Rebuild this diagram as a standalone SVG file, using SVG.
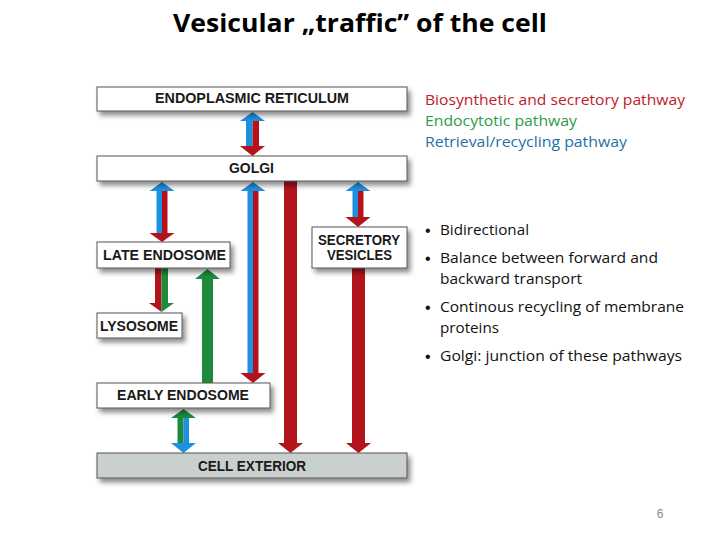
<svg xmlns="http://www.w3.org/2000/svg" width="720" height="540" viewBox="0 0 720 540">
<defs>
<filter id="sh" x="-10%" y="-30%" width="125%" height="190%">
<feDropShadow dx="3" dy="4" stdDeviation="2.5" flood-color="#000" flood-opacity="0.45"/>
</filter>
<style>
.box{fill:#fff;stroke:#555;stroke-width:1;filter:url(#sh)}
.ext{fill:#c9d0cd}
.lbl{font-family:"Liberation Sans",Arial,sans-serif;font-weight:bold;font-size:14.5px;fill:#1a1a1a;text-anchor:middle}
.r{fill:#b3141c}.b{fill:#1e90e0}.g{fill:#1f8a3c}
.leg{font-family:"Open Sans","Liberation Sans",sans-serif;font-size:14px}
.bt{font-family:"Open Sans","Liberation Sans",sans-serif;font-size:14px;fill:#111}
.bu{font-family:"Liberation Sans",sans-serif;font-size:16px;fill:#111}
</style>
</defs>
<rect width="720" height="540" fill="#fff"/>
<text x="360" y="32" font-family="'Open Sans','Liberation Sans',sans-serif" font-weight="bold" font-size="25" text-anchor="middle" textLength="374" lengthAdjust="spacingAndGlyphs" fill="#000">Vesicular „traffic” of the cell</text>

<g id="connectors">
<path class="b" d="M246,146 V121 H240 L252.5,112 L265,121 H252.5 V146 Z"/>
<path class="r" d="M252.5,121 H259 V146 H265 L252.5,156 L240,146 H252.5 Z"/>
<path class="b" d="M156.5,233 V191 H149.5 L162,182 L174.5,191 H162 V233 Z"/>
<path class="r" d="M162,191 H167.5 V233 H174.5 L162,242 L149.5,233 H162 Z"/>
<path class="b" d="M352.5,217 V191 H345.5 L358,182 L370.5,191 H358 V217 Z"/>
<path class="r" d="M358,191 H363.5 V217 H370.5 L358,227 L345.5,217 H358 Z"/>
<path class="b" d="M247.5,373 V191 H240.5 L253,182 L265.5,191 H253 V373 Z"/>
<path class="r" d="M253,191 H258.5 V373 H265.5 L253,383 L240.5,373 H253 Z"/>
<path class="r" d="M284,181 H297 V443 H303 L290.5,453 L278,443 H284 Z"/>
<path class="r" d="M352,268 H365 V443 H371 L358.5,453 L346,443 H352 Z"/>
<path class="r" d="M155,268 H161.5 V312 L149,303 H155 Z"/>
<path class="g" d="M161.5,268 H168 V303 H174 L161.5,312 Z"/>
<path class="g" d="M202,383 V279 H195 L207.5,269 L220,279 H213 V383 Z"/>
<path class="g" d="M177.5,444 V418 H171 L183.5,409 L196,418 H183.5 V444 Z"/>
<path class="b" d="M183.5,418 H189 V443 H196 L183.5,453 L171,443 H183.5 Z"/>
</g>

<g id="er"><rect class="box" x="97" y="87" width="310" height="24"/><text class="lbl" x="252" y="103" textLength="194" lengthAdjust="spacingAndGlyphs">ENDOPLASMIC RETICULUM</text></g>
<g id="golgi"><rect class="box" x="97" y="156" width="310" height="25"/><text class="lbl" x="251.5" y="173" textLength="45" lengthAdjust="spacingAndGlyphs">GOLGI</text></g>
<g id="late-endosome"><rect class="box" x="97" y="242" width="133" height="26"/><text class="lbl" x="164.5" y="260" textLength="123" lengthAdjust="spacingAndGlyphs">LATE ENDOSOME</text></g>
<g id="secretory-vesicles"><rect class="box" x="312" y="227" width="95" height="41"/><text class="lbl" x="359" y="245" textLength="82" lengthAdjust="spacingAndGlyphs">SECRETORY</text><text class="lbl" x="359.5" y="260" textLength="65" lengthAdjust="spacingAndGlyphs">VESICLES</text></g>
<g id="lysosome"><rect class="box" x="97" y="313" width="85" height="25"/><text class="lbl" x="139" y="331" textLength="78" lengthAdjust="spacingAndGlyphs">LYSOSOME</text></g>
<g id="early-endosome"><rect class="box" x="97" y="383" width="173" height="25"/><text class="lbl" x="183" y="400" textLength="132" lengthAdjust="spacingAndGlyphs">EARLY ENDOSOME</text></g>
<g id="cell-exterior"><rect class="box ext" x="97" y="453" width="310" height="25"/><text class="lbl" x="252" y="471" textLength="108" lengthAdjust="spacingAndGlyphs">CELL EXTERIOR</text></g>

<g id="legend">
<text class="leg" x="425" y="105" fill="#c0202a" textLength="260" lengthAdjust="spacingAndGlyphs">Biosynthetic and secretory pathway</text>
<text class="leg" x="425" y="126" fill="#2e9a4a" textLength="152" lengthAdjust="spacingAndGlyphs">Endocytotic pathway</text>
<text class="leg" x="425" y="147" fill="#1f6fa8" textLength="202" lengthAdjust="spacingAndGlyphs">Retrieval/recycling pathway</text>
</g>

<g id="bullets">
<text class="bu" x="425" y="236">•</text>
<text class="bt" x="440" y="235" textLength="89" lengthAdjust="spacingAndGlyphs">Bidirectional</text>
<text class="bu" x="425" y="264">•</text>
<text class="bt" x="440" y="263" textLength="218" lengthAdjust="spacingAndGlyphs">Balance between forward and</text>
<text class="bt" x="440" y="284" textLength="142" lengthAdjust="spacingAndGlyphs">backward transport</text>
<text class="bu" x="425" y="313">•</text>
<text class="bt" x="440" y="312" textLength="244" lengthAdjust="spacingAndGlyphs">Continous recycling of membrane</text>
<text class="bt" x="440" y="333" textLength="59" lengthAdjust="spacingAndGlyphs">proteins</text>
<text class="bu" x="425" y="362">•</text>
<text class="bt" x="440" y="361" textLength="242" lengthAdjust="spacingAndGlyphs">Golgi: junction of these pathways</text>
</g>

<text x="660" y="518" font-family="'Liberation Sans',sans-serif" font-size="12" fill="#888" text-anchor="middle">6</text>
</svg>
